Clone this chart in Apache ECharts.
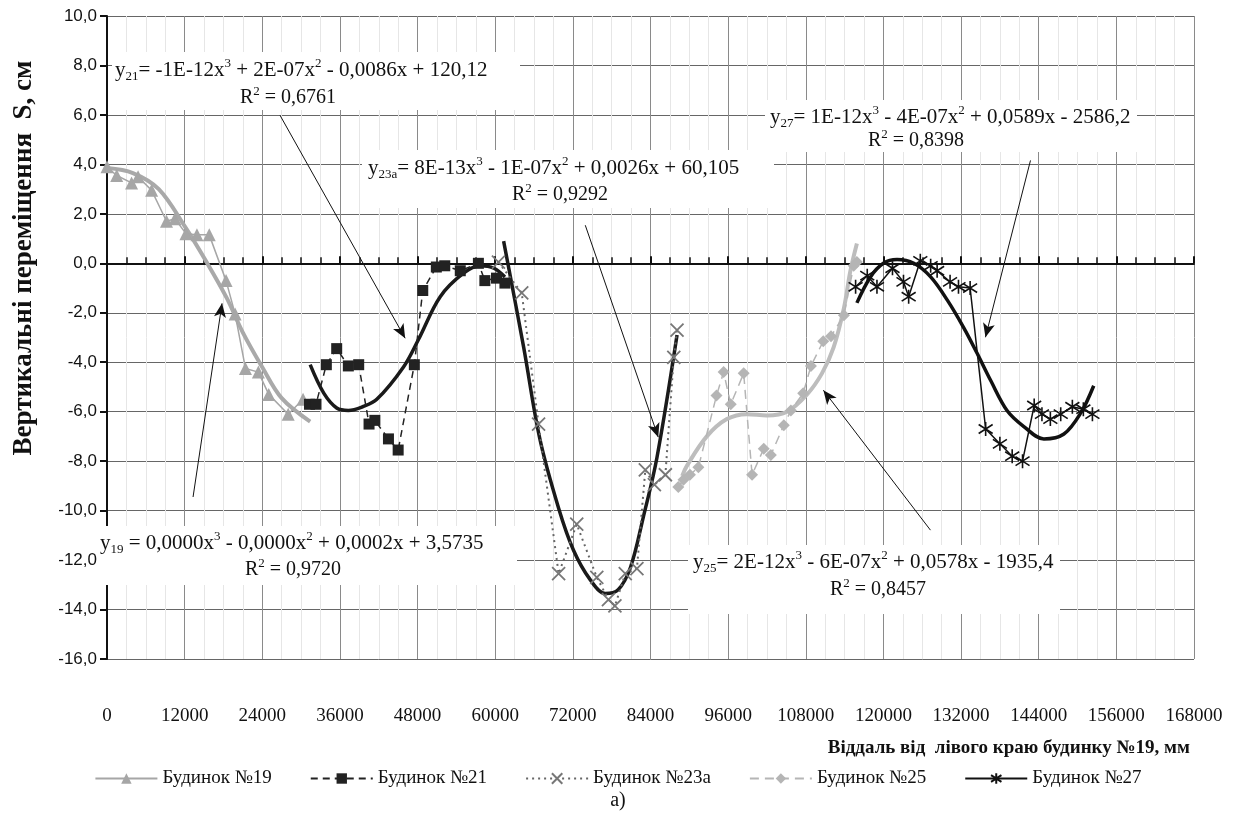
<!DOCTYPE html>
<html>
<head>
<meta charset="utf-8">
<script src="https://cdn.jsdelivr.net/npm/echarts@6/dist/echarts.min.js"></script>
<style>html,body{margin:0;background:#fff}#chart{width:1236px;height:813px}</style>
</head>
<body>
<div id="chart"></div>
<script>
// замірені точки: [віддаль, мм ; осідання, см]
var house19 = [[0,3.9],[1500,3.55],[3800,3.25],[4800,3.5],[6900,2.95],[9200,1.7],[10500,1.8],[12200,1.2],[13900,1.15],[15800,1.15],[18400,-0.7],[19800,-2.05],[21400,-4.25],[23400,-4.4],[25000,-5.3],[28000,-6.1],[30300,-5.5]];
var house21 = [[31300,-5.7],[32300,-5.7],[33900,-4.1],[35500,-3.45],[37300,-4.15],[38900,-4.1],[40500,-6.5],[41400,-6.35],[43500,-7.1],[45000,-7.55],[47500,-4.1],[48800,-1.1],[50900,-0.15],[52200,-0.1],[54600,-0.3],[57400,0.0],[58400,-0.7],[60200,-0.6],[61500,-0.8]];
var house23a = [[60500,0.05],[64100,-1.2],[66700,-6.5],[69800,-12.55],[72600,-10.55],[75700,-12.7],[77500,-13.6],[78500,-13.85],[80100,-12.55],[81900,-12.35],[83200,-8.35],[84600,-8.95],[86300,-8.55],[87600,-3.8],[88100,-2.7]];
var house25 = [[88300,-9.05],[89100,-8.75],[90100,-8.55],[91400,-8.25],[94200,-5.35],[95300,-4.4],[96400,-5.7],[98400,-4.45],[99700,-8.55],[101500,-7.5],[102600,-7.75],[104600,-6.55],[105700,-5.95],[107600,-5.25],[108800,-4.15],[110700,-3.15],[111900,-2.95],[113900,-2.1],[115400,-0.1],[115900,0.05]];
var house27 = [[115700,-0.95],[117500,-0.5],[119000,-0.95],[121400,-0.2],[123100,-0.75],[123900,-1.35],[125700,0.1],[127300,-0.1],[128300,-0.3],[130300,-0.75],[131600,-0.95],[133400,-1.0],[135800,-6.7],[138000,-7.3],[139900,-7.8],[141500,-8.0],[143300,-5.75],[144500,-6.1],[145800,-6.3],[147400,-6.1],[149200,-5.8],[150900,-5.9],[152300,-6.1]];

// лінії тренду
var trend19 = [[0,3.85],[4000,3.65],[8000,3.0],[12000,1.5],[15500,0],[18500,-1.4],[21000,-2.8],[24000,-4.2],[27000,-5.45],[31400,-6.4]];
var trend21 = [[31400,-4.1],[33500,-5.25],[35500,-5.85],[37300,-5.95],[39500,-5.8],[41700,-5.5],[45800,-4.2],[48100,-3.1],[51500,-1.35],[55100,-0.4],[57700,-0.1],[59800,-0.2],[61500,-0.55]];
var trend23a = [[61300,0.9],[64400,-3.4],[66900,-7.1],[69800,-9.9],[72100,-11.6],[74700,-12.8],[77000,-13.35],[79000,-13.2],[80900,-12.3],[82900,-10.25],[85000,-7.85],[88100,-2.9]];
var trend25 = [[88900,-8.6],[89600,-8.2],[92700,-7.0],[95800,-6.3],[98900,-6.1],[102000,-6.15],[105100,-6.0],[108200,-5.3],[110500,-4.45],[112300,-3.4],[113900,-1.8],[114900,-0.3],[115900,0.8]];
var trend27 = [[115900,-1.6],[118000,-0.55],[120000,0.0],[122100,0.15],[124700,0.0],[127300,-0.55],[129900,-1.5],[132400,-2.6],[134500,-3.65],[136600,-4.75],[139100,-5.95],[141700,-6.6],[144800,-7.1],[147900,-6.9],[150500,-6.05],[152500,-4.95]];

// стрілки від рівнянь до кривих
var arrow19 = [[13300,-9.45],[17780,-1.62]];
var arrow21 = [[26750,5.98],[46080,-3.03]];
var arrow23a = [[73920,1.54],[85200,-7.03]];
var arrow25 = [[127270,-10.79],[110720,-5.13]];
var arrow27 = [[142730,4.16],[135770,-2.99]];

var xMin = 0, xMax = 168000, xStep = 12000;
var yMin = -16, yMax = 10, yStep = 2;

var chart = echarts.init(document.getElementById('chart'));

var serif = 'Liberation Serif';
var xMark = 'path://M0,0L10,10M10,0L0,10';
var starMark = 'path://M5,0L5,10M0.7,1.8L9.3,8.2M9.3,1.8L0.7,8.2';

function arrow(pts) {
    return {
        silent: true,
        symbol: ['none', 'arrow'],
        symbolSize: 12,
        label: {show: false},
        itemStyle: {color: '#111'},
        lineStyle: {color: '#111', width: 1, type: 'solid'},
        data: [[{coord: pts[0], symbol: 'none'}, {coord: pts[1], symbol: 'arrow', symbolSize: [9, 14]}]]
    };
}

function trend(name, data, color, width, arr) {
    var s = {
        name: name, type: 'line', data: data, smooth: 0.35,
        showSymbol: false, symbol: 'none', z: 3,
        lineStyle: {color: color, width: width}
    };
    if (arr) s.markLine = arrow(arr);
    return s;
}

var rich = {
    t: {fontFamily: serif, fontSize: 21, lineHeight: 26, fill: '#111'},
    r: {fontFamily: serif, fontSize: 20, lineHeight: 26, fill: '#111'},
    s: {fontFamily: serif, fontSize: 13, lineHeight: 26, fill: '#111', verticalAlign: 'bottom'},
    p: {fontFamily: serif, fontSize: 13, lineHeight: 26, fill: '#111', verticalAlign: 'top'}
};

function txt(x, y, text) {
    return {type: 'text', x: x, y: y, z: 101, style: {text: text, rich: rich, verticalAlign: 'middle', align: 'left'}};
}
function box(x, y, w, h) {
    return {type: 'rect', z: 100, shape: {x: x, y: y, width: w, height: h}, style: {fill: '#fff'}};
}

var option = {
    animation: false,
    grid: {left: 107, right: 42, top: 16, bottom: 154},
    legend: {
        bottom: 20,
        left: 'center',
        itemGap: 38,
        itemWidth: 62,
        itemHeight: 13,
        textStyle: {fontFamily: serif, fontSize: 19, color: '#111'},
        data: ['Будинок №19', 'Будинок №21', 'Будинок №23а', 'Будинок №25', 'Будинок №27']
    },
    xAxis: [
        {
            type: 'value', min: xMin, max: xMax, interval: xStep,
            axisLine: {show: false, onZero: false},
            axisTick: {show: false},
            axisLabel: {margin: 48, fontFamily: serif, fontSize: 19, color: '#111',
                formatter: function (v) { return String(v); }},
            splitLine: {lineStyle: {color: '#8a8a8a'}},
            minorTick: {show: false, splitNumber: 4},
            minorSplitLine: {show: true, lineStyle: {color: '#e6e6e6'}}
        },
        {
            type: 'value', min: xMin, max: xMax, interval: xStep, position: 'bottom',
            axisLine: {onZero: true, onZeroAxisIndex: 0, lineStyle: {color: '#111', width: 2}},
            axisTick: {inside: true, length: 7, lineStyle: {color: '#111', width: 2}},
            minorTick: {show: true, splitNumber: 4, length: 6, lineStyle: {color: '#111', width: 1.5}},
            axisLabel: {show: false},
            splitLine: {show: false}
        }
    ],
    yAxis: {
        type: 'value', min: yMin, max: yMax, interval: yStep,
        axisLine: {show: true, onZero: false, lineStyle: {color: '#111', width: 2}},
        axisTick: {show: true, length: 7, lineStyle: {color: '#111', width: 2}},
        axisLabel: {
            margin: 10, fontFamily: 'Liberation Sans', fontSize: 17, color: '#111',
            formatter: function (v) { return v.toFixed(1).replace('.', ','); }
        },
        splitLine: {lineStyle: {color: '#666'}}
    },
    series: [
        trend('t19', trend19, '#a9a9a9', 4, arrow19),
        trend('t21', trend21, '#1a1a1a', 3.5, arrow21),
        trend('t23a', trend23a, '#1a1a1a', 3.5, arrow23a),
        trend('t25', trend25, '#bdbdbd', 4, arrow25),
        trend('t27', trend27, '#111', 3.5, arrow27),
        {
            name: 'Будинок №19', type: 'line', data: house19, z: 4,
            symbol: 'triangle', symbolSize: 13,
            itemStyle: {color: '#a6a6a6'},
            lineStyle: {color: '#a6a6a6', width: 1.5}
        },
        {
            name: 'Будинок №21', type: 'line', data: house21, z: 4,
            symbol: 'rect', symbolSize: 11,
            itemStyle: {color: '#222'},
            lineStyle: {color: '#222', width: 1.5, type: [7, 5]}
        },
        {
            name: 'Будинок №23а', type: 'line', data: house23a, z: 4,
            symbol: xMark, symbolSize: 13,
            itemStyle: {color: '#777', borderColor: '#777', borderWidth: 1.8},
            lineStyle: {color: '#666', width: 2, type: [2, 4]}
        },
        {
            name: 'Будинок №25', type: 'line', data: house25, z: 4,
            symbol: 'diamond', symbolSize: 12,
            itemStyle: {color: '#b5b5b5'},
            lineStyle: {color: '#b5b5b5', width: 1.5, type: [9, 6]}
        },
        {
            name: 'Будинок №27', type: 'line', data: house27, z: 4,
            symbol: starMark, symbolSize: 14,
            itemStyle: {color: '#111', borderColor: '#111', borderWidth: 1.6},
            lineStyle: {color: '#111', width: 1.5}
        }
    ],
    graphic: [
        box(112, 52, 408, 58),
        txt(115, 70, '{t|y}{s|21}{t|= -1E-12x}{p|3}{t| + 2E-07x}{p|2}{t| - 0,0086x + 120,12}'),
        txt(240, 98, '{r|R}{p|2}{r| = 0,6761}'),
        box(362, 150, 412, 58),
        txt(368, 168, '{t|y}{s|23а}{t|= 8E-13x}{p|3}{t| - 1E-07x}{p|2}{t| + 0,0026x + 60,105}'),
        txt(512, 195, '{r|R}{p|2}{r| = 0,9292}'),
        box(765, 100, 372, 52),
        txt(770, 117, '{t|y}{s|27}{t|= 1E-12x}{p|3}{t| - 4E-07x}{p|2}{t| + 0,0589x - 2586,2}'),
        txt(868, 141, '{r|R}{p|2}{r| = 0,8398}'),
        box(97, 526, 420, 59),
        txt(100, 543, '{t|y}{s|19}{t| = 0,0000x}{p|3}{t| - 0,0000x}{p|2}{t| + 0,0002x + 3,5735}'),
        txt(245, 570, '{r|R}{p|2}{r| = 0,9720}'),
        box(688, 545, 372, 69),
        txt(693, 562, '{t|y}{s|25}{t|= 2E-12x}{p|3}{t| - 6E-07x}{p|2}{t| + 0,0578x - 1935,4}'),
        txt(830, 590, '{r|R}{p|2}{r| = 0,8457}'),
        {
            type: 'text', x: 24, y: 258, rotation: Math.PI / 2, z: 101,
            style: {text: 'Вертикальні переміщення  S, см', font: 'bold 27px "Liberation Serif"', fill: '#111', align: 'center', verticalAlign: 'middle'}
        },
        {
            type: 'text', x: 1190, y: 748, z: 101,
            style: {text: 'Віддаль від  лівого краю будинку №19, мм', font: 'bold 19px "Liberation Serif"', fill: '#111', align: 'right', verticalAlign: 'middle'}
        },
        {
            type: 'text', x: 618, y: 801, z: 101,
            style: {text: 'а)', font: '20px "Liberation Serif"', fill: '#111', align: 'center', verticalAlign: 'middle'}
        }
    ]
};

chart.setOption(option);
</script>
</body>
</html>
